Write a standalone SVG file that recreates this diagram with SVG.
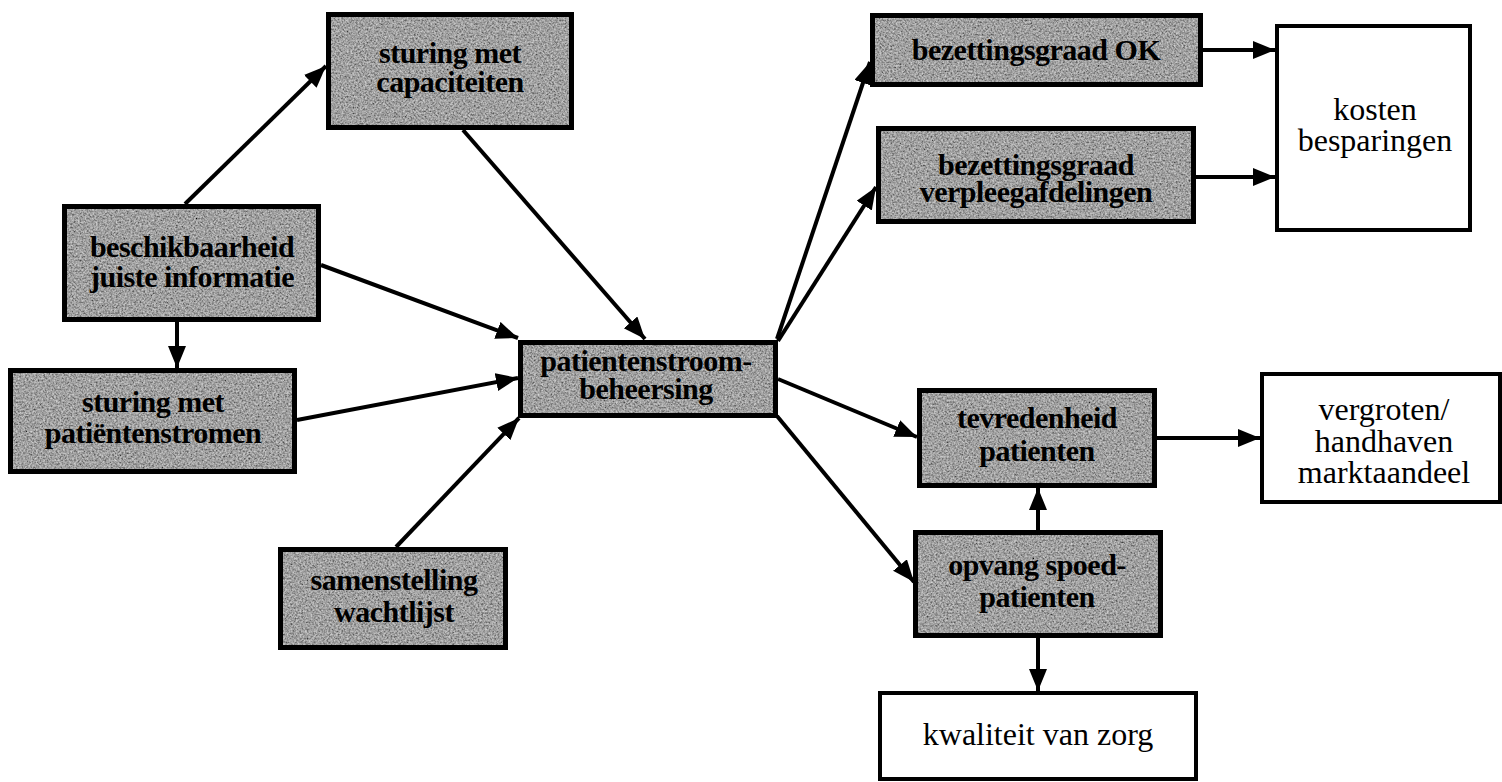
<svg xmlns="http://www.w3.org/2000/svg" width="1502" height="782" viewBox="0 0 1502 782">
  <style>
    .shade { fill: #a0a0a0; filter: url(#grain); }
    .frame { fill: none; stroke: #000; stroke-width: 5; }
    .plain { fill: #fff; stroke: #000; stroke-width: 4; }
    .lbl { font-weight: bold; font-size: 30px; letter-spacing: -0.5px; text-anchor: middle; fill: #000; }
    .lbl2 { font-size: 32px; text-anchor: middle; fill: #000; }
    .edge { stroke: #000; stroke-width: 4; fill: none; marker-end: url(#head); }
  </style>
  <defs>
    <marker id="head" markerUnits="userSpaceOnUse" markerWidth="24" markerHeight="20" refX="22" refY="9" orient="auto">
      <path d="M0,0 L22,9 L0,18 z" fill="#000"/>
    </marker>
    <!-- speckled grey texture for the shaded boxes -->
    <filter id="grain" x="0" y="0" width="100%" height="100%">
      <feTurbulence type="fractalNoise" baseFrequency="0.55" numOctaves="3" seed="7" result="noise"/>
      <feColorMatrix in="noise" type="matrix" values="1 0 0 0 0  1 0 0 0 0  1 0 0 0 0  0 0 0 0 1" result="mono"/>
      <feComposite in="mono" in2="SourceGraphic" operator="arithmetic" k1="0" k2="0.8" k3="1" k4="-0.4" result="mix"/>
      <feComposite in="mix" in2="SourceGraphic" operator="in"/>
    </filter>
  </defs>

  <rect width="1502" height="782" fill="#fff"/>

  <g id="connectors">
    <line class="edge" x1="185" y1="204" x2="326" y2="66"/>
    <line class="edge" x1="463" y1="130" x2="645" y2="339"/>
    <line class="edge" x1="321" y1="265" x2="518" y2="338"/>
    <line class="edge" x1="177" y1="322" x2="177" y2="368"/>
    <line class="edge" x1="297" y1="420" x2="518" y2="378"/>
    <line class="edge" x1="396" y1="547" x2="519" y2="418"/>
    <line class="edge" x1="777" y1="339" x2="870" y2="62"/>
    <line class="edge" x1="778" y1="341" x2="876" y2="187"/>
    <line class="edge" x1="778" y1="379" x2="917" y2="437"/>
    <line class="edge" x1="777" y1="416" x2="914" y2="582"/>
    <line class="edge" x1="1203" y1="50" x2="1275" y2="50"/>
    <line class="edge" x1="1196" y1="177" x2="1275" y2="177"/>
    <line class="edge" x1="1157" y1="438" x2="1260" y2="438"/>
    <line class="edge" x1="1038" y1="530" x2="1038" y2="488"/>
    <line class="edge" x1="1038" y1="638" x2="1038" y2="691"/>
  </g>

  <g font-family="'Liberation Serif', 'DejaVu Serif', 'Times New Roman', serif">
    <g id="sturing-capaciteiten">
      <rect class="shade" x="328.5" y="14.5" width="243" height="113"/>
      <rect class="frame" x="328.5" y="14.5" width="243" height="113"/>
      <text class="lbl" x="450" y="63">sturing met</text>
      <text class="lbl" x="450" y="92">capaciteiten</text>
    </g>

    <g id="beschikbaarheid">
      <rect class="shade" x="64.5" y="206.5" width="254" height="113"/>
      <rect class="frame" x="64.5" y="206.5" width="254" height="113"/>
      <text class="lbl" x="192" y="257">beschikbaarheid</text>
      <text class="lbl" x="192" y="287">juiste informatie</text>
    </g>

    <g id="sturing-patientenstromen">
      <rect class="shade" x="10.5" y="370.5" width="284" height="101"/>
      <rect class="frame" x="10.5" y="370.5" width="284" height="101"/>
      <text class="lbl" x="153" y="412">sturing met</text>
      <text class="lbl" x="153" y="443">patiëntenstromen</text>
    </g>

    <g id="patientenstroombeheersing">
      <rect class="shade" x="520.5" y="342.5" width="255" height="73"/>
      <rect class="frame" x="520.5" y="342.5" width="255" height="73"/>
      <text class="lbl" x="646" y="371">patientenstroom-</text>
      <text class="lbl" x="646" y="399">beheersing</text>
    </g>

    <g id="samenstelling-wachtlijst">
      <rect class="shade" x="280.5" y="549.5" width="225" height="98"/>
      <rect class="frame" x="280.5" y="549.5" width="225" height="98"/>
      <text class="lbl" x="394" y="590">samenstelling</text>
      <text class="lbl" x="394" y="622">wachtlijst</text>
    </g>

    <g id="bezettingsgraad-ok">
      <rect class="shade" x="872.5" y="15.5" width="328" height="69"/>
      <rect class="frame" x="872.5" y="15.5" width="328" height="69"/>
      <text class="lbl" x="1036" y="60">bezettingsgraad OK</text>
    </g>

    <g id="bezettingsgraad-verpleegafdelingen">
      <rect class="shade" x="878.5" y="128.5" width="315" height="93"/>
      <rect class="frame" x="878.5" y="128.5" width="315" height="93"/>
      <text class="lbl" x="1036" y="175">bezettingsgraad</text>
      <text class="lbl" x="1036" y="202">verpleegafdelingen</text>
    </g>

    <g id="kosten-besparingen">
      <rect class="plain" x="1277" y="26" width="193" height="204"/>
      <text class="lbl2" x="1375" y="120">kosten</text>
      <text class="lbl2" x="1375" y="151">besparingen</text>
    </g>

    <g id="tevredenheid-patienten">
      <rect class="shade" x="919.5" y="390.5" width="235" height="95"/>
      <rect class="frame" x="919.5" y="390.5" width="235" height="95"/>
      <text class="lbl" x="1037" y="428">tevredenheid</text>
      <text class="lbl" x="1037" y="461">patienten</text>
    </g>

    <g id="marktaandeel">
      <rect class="plain" x="1262" y="374" width="238" height="128"/>
      <text class="lbl2" x="1384" y="420">vergroten/</text>
      <text class="lbl2" x="1384" y="452">handhaven</text>
      <text class="lbl2" x="1384" y="483">marktaandeel</text>
    </g>

    <g id="opvang-spoedpatienten">
      <rect class="shade" x="915.5" y="532.5" width="245" height="103"/>
      <rect class="frame" x="915.5" y="532.5" width="245" height="103"/>
      <text class="lbl" x="1037" y="575">opvang spoed-</text>
      <text class="lbl" x="1037" y="607">patienten</text>
    </g>

    <g id="kwaliteit-van-zorg">
      <rect class="plain" x="880" y="693" width="316" height="86"/>
      <text class="lbl2" x="1038" y="745">kwaliteit van zorg</text>
    </g>
  </g>
</svg>
